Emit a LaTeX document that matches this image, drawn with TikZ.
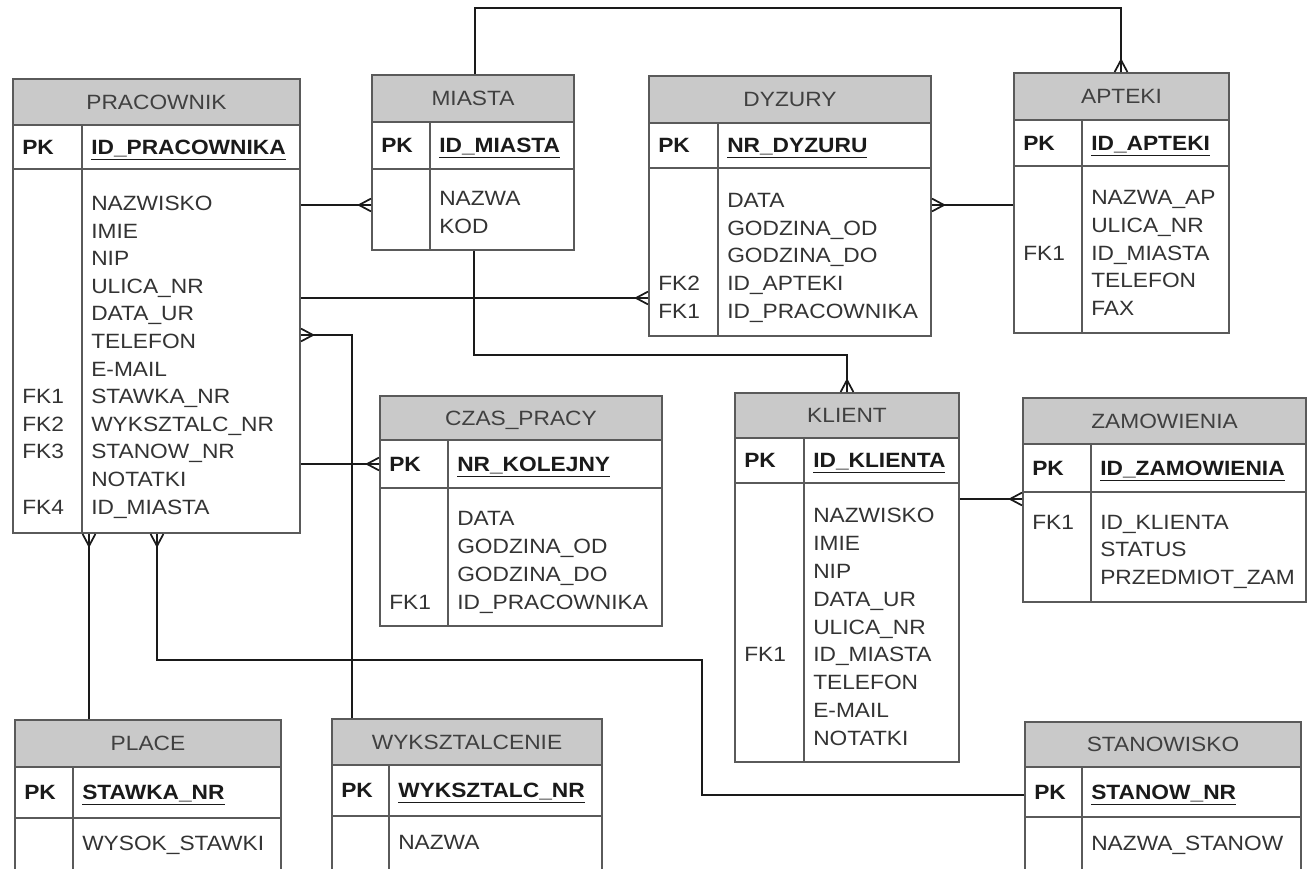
\documentclass[tikz,border=0pt]{standalone}
\usepackage{fontspec}
\setmainfont{Liberation Sans}[FakeStretch=1.1]
\usetikzlibrary{fit,decorations.markings}
\definecolor{boxgray}{HTML}{5A5A5A}
\definecolor{hdrgray}{HTML}{C9C9C9}
\definecolor{titlegray}{HTML}{404040}
\definecolor{fieldgray}{HTML}{333333}
\definecolor{pkgray}{HTML}{1A1A1A}
\definecolor{linegray}{HTML}{1A1A1A}
\tikzset{
  tblbox/.style={draw=boxgray, line width=1.5pt, inner sep=0pt},
  hdrfill/.style={fill=hdrgray},
  tline/.style={draw=boxgray, line width=1.5pt},
  ttl/.style={font=\fontsize{15.5pt}{18pt}\selectfont, text=titlegray, inner sep=0pt, anchor=base},
  fld/.style={font=\fontsize{15.5pt}{18pt}\selectfont, text=fieldgray, inner sep=0pt, anchor=base west},
  pklbl/.style={font=\fontsize{15.5pt}{18pt}\selectfont\bfseries, text=pkgray, inner sep=0pt, anchor=base west},
  conn/.style={draw=linegray, line width=1.9pt},
  crowend/.style={postaction={decorate, decoration={markings,
    mark=at position 1 with {\draw[linegray, line width=1.3pt]
      (-9pt,0pt) -- (0pt,4.8pt) (-9pt,0pt) -- (0pt,-4.8pt) (-9pt,0pt) -- (0pt,0pt);}}}},
}
% table: name, left, top, right, bottom, header bottom, pk bottom, divider x, title
\newcommand\ertable[9]{%
  \def\ername{#1}\def\erL{#2}\def\erT{#3}\def\erR{#4}\def\erB{#5}%
  \def\erH{#6}\def\erP{#7}\def\erD{#8}%
  \fill[hdrfill] (#2,#3) rectangle (#4,#6);
  \path (#2,#3) coordinate (#1-nw) (#4,#5) coordinate (#1-se);
  \draw[tline] (#2,#6) -- (#4,#6) (#2,#7) -- (#4,#7) (#8,#6) -- (#8,#5);
  \node[tblbox, fit=(#1-nw)(#1-se)] (#1) {};
  \node[ttl] (#1-title) at ({(#2+#4)/2},{(#3+#6)/2+7.4}) {#9};
}
\newcommand\erpk[1]{%
  \node[pklbl] (\ername-pk) at (\erL+9,{(\erH+\erP)/2+7.4}) {PK};
  \node[pklbl] (\ername-pkf) at (\erD+9,{(\erH+\erP)/2+7.4}) {\underline{#1}};
}
\newcommand\erfields[3]{%
  \foreach \t [count=\i from 0] in {#3}
    \node[fld] (\ername-f\i) at (\erD+9,{#1+\i*#2+7.4}) {\t};
}
\newcommand\erkeys[3]{%
  \foreach \k/\lab in {#3}
    \node[fld] (\ername-k\k) at (\erL+9,{#1+\k*#2+7.4}) {\lab};
}
\begin{document}
\begin{tikzpicture}[x=0.75pt,y=-0.75pt]
\useasboundingbox (0,0) rectangle (1308,868);
\clip (0,0) rectangle (1308,868);
\fill[white] (0,0) rectangle (1308,868);

% PRACOWNIK
\ertable{prac}{13}{79}{300}{533}{125}{169}{82}{PRACOWNIK}
\erpk{ID\_PRACOWNIKA}
\erfields{203}{27.6}{NAZWISKO,IMIE,NIP,ULICA\_NR,DATA\_UR,TELEFON,E-MAIL,STAWKA\_NR,WYKSZTALC\_NR,STANOW\_NR,NOTATKI,ID\_MIASTA}
\erkeys{203}{27.6}{7/FK1,8/FK2,9/FK3,11/FK4}

% MIASTA
\ertable{mia}{372}{75}{574}{250}{122}{169}{430}{MIASTA}
\erpk{ID\_MIASTA}
\erfields{198}{28}{NAZWA,KOD}

% DYZURY
\ertable{dyz}{649}{76}{931}{336}{123}{168}{718}{DYZURY}
\erpk{NR\_DYZURU}
\erfields{200}{27.7}{DATA,GODZINA\_OD,GODZINA\_DO,ID\_APTEKI,ID\_PRACOWNIKA}
\erkeys{200}{27.7}{3/FK2,4/FK1}

% APTEKI
\ertable{apt}{1014}{73}{1229}{333}{120}{166}{1082}{APTEKI}
\erpk{ID\_APTEKI}
\erfields{197}{27.8}{NAZWA\_AP,ULICA\_NR,ID\_MIASTA,TELEFON,FAX}
\erkeys{197}{27.8}{2/FK1}

% CZAS_PRACY
\ertable{czas}{380}{396}{662}{626}{440}{488}{448}{CZAS\_PRACY}
\erpk{NR\_KOLEJNY}
\erfields{518}{28}{DATA,GODZINA\_OD,GODZINA\_DO,ID\_PRACOWNIKA}
\erkeys{518}{28}{3/FK1}

% KLIENT
\ertable{kli}{735}{393}{959}{762}{438}{483}{804}{KLIENT}
\erpk{ID\_KLIENTA}
\erfields{515}{27.9}{NAZWISKO,IMIE,NIP,DATA\_UR,ULICA\_NR,ID\_MIASTA,TELEFON,E-MAIL,NOTATKI}
\erkeys{515}{27.9}{5/FK1}

% ZAMOWIENIA
\ertable{zam}{1023}{398}{1306}{602}{444}{492}{1091}{ZAMOWIENIA}
\erpk{ID\_ZAMOWIENIA}
\erfields{522}{27.5}{ID\_KLIENTA,STATUS,PRZEDMIOT\_ZAM}
\erkeys{522}{27.5}{0/FK1}

% PLACE
\ertable{place}{15}{720}{281}{890}{767}{818}{73}{PLACE}
\erpk{STAWKA\_NR}
\erfields{843}{28}{WYSOK\_STAWKI}

% WYKSZTALCENIE
\ertable{wyk}{332}{719}{602}{890}{765}{816}{389}{WYKSZTALCENIE}
\erpk{WYKSZTALC\_NR}
\erfields{842}{28}{NAZWA}

% STANOWISKO
\ertable{stan}{1025}{722}{1301}{890}{767}{817}{1082}{STANOWISKO}
\erpk{STANOW\_NR}
\erfields{843}{28}{NAZWA\_STANOW}

% connectors (crow's foot at the end of each path)
\draw[conn, crowend] (prac.east |- 0,205) -- (mia.west |- 0,205);
\draw[conn, crowend] (mia.north -| 475,0) |- (1121,8) -- (apt.north -| 1121,0);
\draw[conn, crowend] (apt.west |- 0,205) -- (dyz.east |- 0,205);
\draw[conn, crowend] (prac.east |- 0,298) -- (dyz.west |- 0,298);
\draw[conn, crowend] (mia.south -| 474,0) |- (847,355) -- (kli.north -| 847,0);
\draw[conn, crowend] (wyk.north -| 352,0) |- (prac.east |- 0,335);
\draw[conn, crowend] (prac.east |- 0,464) -- (czas.west |- 0,464);
\draw[conn, crowend] (kli.east |- 0,499) -- (zam.west |- 0,499);
\draw[conn, crowend] (place.north -| 89,0) -- (prac.south -| 89,0);
\draw[conn, crowend] (stan.west |- 0,795) -| (702,660) -| (prac.south -| 157,0);
\end{tikzpicture}
\end{document}
